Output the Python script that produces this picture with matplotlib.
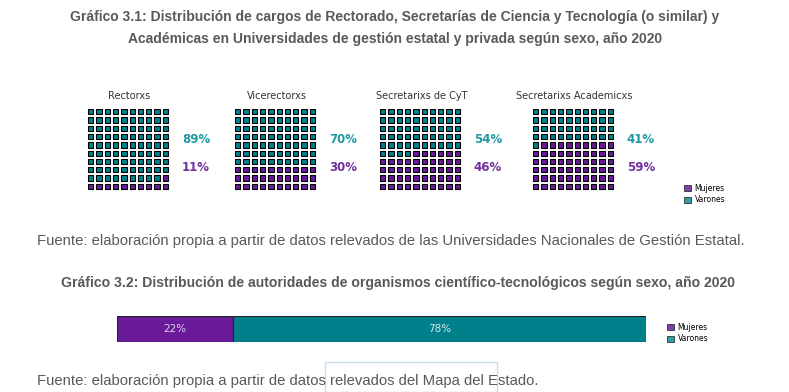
import matplotlib
matplotlib.use('Agg')
import matplotlib.pyplot as plt
from matplotlib.patches import Rectangle, Patch

# data
cargos = ["Rectorxs", "Vicerectorxs", "Secretarixs de CyT", "Secretarixs Academicxs"]
varones_pct = [89, 70, 54, 41]
mujeres_pct = [11, 30, 46, 59]

bar_mujeres = 22
bar_varones = 78

titulo_1 = ("Gráfico 3.1: Distribución de cargos de Rectorado, Secretarías de Ciencia y Tecnología (o similar) y\n"
            "Académicas en Universidades de gestión estatal y privada según sexo, año 2020")
titulo_2 = "Gráfico 3.2: Distribución de autoridades de organismos científico-tecnológicos según sexo, año 2020"
fuente_1 = "Fuente: elaboración propia a partir de datos relevados de las Universidades Nacionales de Gestión Estatal."
fuente_2 = "Fuente: elaboración propia a partir de datos relevados del Mapa del Estado."

TEAL = "#00808a"
PURPLE = "#6a1b9a"
TEAL_TXT = "#1f9aa3"
PURPLE_TXT = "#7030a0"
GRAY = "#595959"

W, H = 789, 392
fig = plt.figure(figsize=(W / 100, H / 100), dpi=100)

def px_axes(x, y, w, h):
    return fig.add_axes([x / W, 1 - (y + h) / H, w / W, h / H])

title_font = ['Liberation Sans']

fig.text(395 / W, 1 - 28 / H, titulo_1, ha='center', va='center', fontsize=10,
         fontweight='bold', color=GRAY, family=title_font, linespacing=1.75)

# waffles
pitch = 8.3
lefts = [88, 235, 380, 533]
for i, name in enumerate(cargos):
    ax = px_axes(lefts[i], 109, 10 * pitch, 10 * pitch)
    ax.set_xlim(0, 10)
    ax.set_ylim(10, 0)
    ax.axis('off')
    n_var = varones_pct[i]
    for k in range(100):
        r, c = divmod(k, 10)
        col = TEAL if k < n_var else PURPLE
        ax.add_patch(Rectangle((c + 0.1, r + 0.1), 0.64, 0.64, facecolor='#8a8a8a',
                               edgecolor='none', zorder=1))
        ax.add_patch(Rectangle((c, r), 0.64, 0.64, facecolor=col,
                               edgecolor='black', linewidth=0.8, zorder=2))
    ax.text(5, -1.6, name, ha='center', va='center', fontsize=7, color='#333333')
    ax.text(11.3, 3.7, f"{varones_pct[i]}%", ha='left', va='center', fontsize=8.5,
            fontweight='bold', color=TEAL_TXT, clip_on=False)
    ax.text(11.3, 7.1, f"{mujeres_pct[i]}%", ha='left', va='center', fontsize=8.5,
            fontweight='bold', color=PURPLE_TXT, clip_on=False)

handles = [Patch(facecolor='#7a3fa8', edgecolor='#333333', linewidth=0.6, label='Mujeres'),
           Patch(facecolor='#2f9ea4', edgecolor='#333333', linewidth=0.6, label='Varones')]
fig.legend(handles=handles, loc='upper left', bbox_to_anchor=(680 / W, 1 - 180 / H),
           frameon=False, fontsize=5.5, handlelength=0.9, handleheight=0.9,
           handletextpad=0.5, labelspacing=0.35, borderpad=0)

fig.text(37 / W, 1 - 241 / H, fuente_1, ha='left', va='center', fontsize=10.75,
         color=GRAY, family=title_font)

fig.text(398 / W, 1 - 283 / H, titulo_2, ha='center', va='center', fontsize=10.1,
         fontweight='bold', color=GRAY, family=title_font)

# stacked bar
bx = px_axes(117, 316, 529, 26)
bx.barh([0], [bar_mujeres], left=0, height=1, color=PURPLE, edgecolor='#222222', linewidth=0.8)
bx.barh([0], [bar_varones], left=bar_mujeres, height=1, color=TEAL, edgecolor='#222222', linewidth=0.8)
bx.set_xlim(0, 100)
bx.set_ylim(-0.5, 0.5)
bx.axis('off')
bx.text(bar_mujeres / 2, 0, f"{bar_mujeres}%", ha='center', va='center', fontsize=7.5, color='#e0d0ea')
bx.text(bar_mujeres + bar_varones / 2, 0, f"{bar_varones}%", ha='center', va='center',
        fontsize=7.5, color='#d8ecee')

fig.legend(handles=handles, loc='upper left', bbox_to_anchor=(663 / W, 1 - 319 / H),
           frameon=False, fontsize=5.5, handlelength=0.9, handleheight=0.9,
           handletextpad=0.5, labelspacing=0.35, borderpad=0)

fig.text(37 / W, 1 - 381 / H, fuente_2, ha='left', va='center', fontsize=10.75,
         color=GRAY, family=title_font)

# faint box at the bottom
fig.patches.append(Rectangle((325 / W, 0), 172 / W, 30 / H, transform=fig.transFigure,
                             facecolor='none', edgecolor='#c9dce8', linewidth=1))

fig.savefig('out.png', dpi=100)
